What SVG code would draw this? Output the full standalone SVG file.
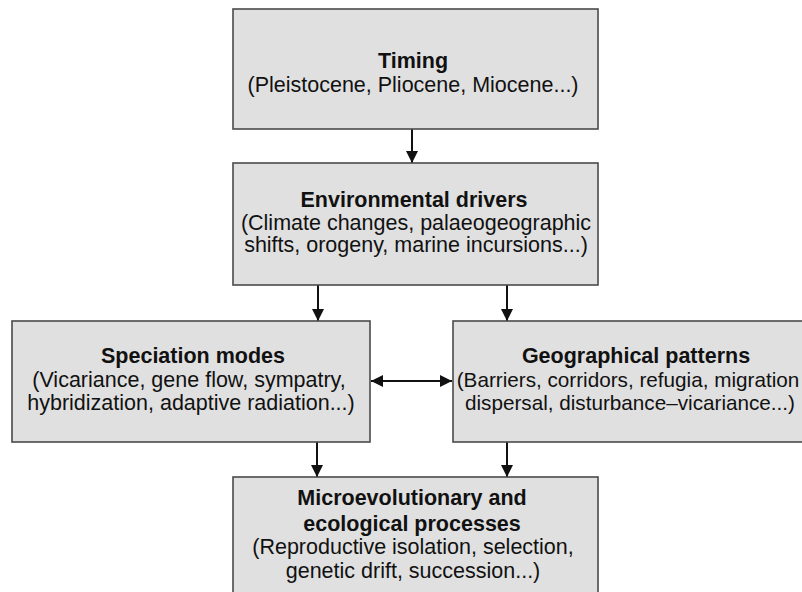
<svg xmlns="http://www.w3.org/2000/svg" width="802" height="592" viewBox="0 0 802 592">
<style>
.box{fill:#e0e0e0;stroke:#4a4a4a;stroke-width:1.6}
text{font-family:"Liberation Sans",Arial,sans-serif;font-size:21.5px;fill:#111;text-anchor:middle}
.b{font-weight:bold}
.s{font-size:20.7px}
.c{stroke:#111;stroke-width:2;fill:none}
</style>
<defs>
<marker id="ah" viewBox="0 0 10 10" refX="10" refY="5" markerWidth="12" markerHeight="12" orient="auto-start-reverse" markerUnits="userSpaceOnUse">
<path d="M0,0 L10,5 L0,10 z" fill="#111"/>
</marker>
</defs>
<rect width="802" height="592" fill="#fff"/>
<g id="connectors">
<line class="c" x1="412" y1="129" x2="412" y2="163" marker-end="url(#ah)"/>
<line class="c" x1="318" y1="285" x2="318" y2="321" marker-end="url(#ah)"/>
<line class="c" x1="507" y1="285" x2="507" y2="321" marker-end="url(#ah)"/>
<line class="c" x1="371" y1="381" x2="452" y2="381" marker-start="url(#ah)" marker-end="url(#ah)"/>
<line class="c" x1="317" y1="442" x2="317" y2="477" marker-end="url(#ah)"/>
<line class="c" x1="507" y1="442" x2="507" y2="477" marker-end="url(#ah)"/>
</g>
<g id="timing">
<rect class="box" x="233" y="9" width="365" height="120"/>
<text class="b" x="413" y="68">Timing</text>
<text x="413" y="92">(Pleistocene, Pliocene, Miocene...)</text>
</g>
<g id="env">
<rect class="box" x="233" y="163" width="365" height="122"/>
<text class="b" x="414" y="207">Environmental drivers</text>
<text x="416" y="230">(Climate changes, palaeogeographic</text>
<text x="416" y="252">shifts, orogeny, marine incursions...)</text>
</g>
<g id="speciation">
<rect class="box" x="12" y="321" width="358" height="121"/>
<text class="b" x="193" y="363">Speciation modes</text>
<text x="189" y="387">(Vicariance, gene flow, sympatry,</text>
<text x="191" y="410">hybridization, adaptive radiation...)</text>
</g>
<g id="geo">
<rect class="box" x="453" y="321" width="360" height="121"/>
<text class="b" x="636" y="363">Geographical patterns</text>
<text class="s" x="628" y="387">(Barriers, corridors, refugia, migration</text>
<text class="s" x="630" y="410">dispersal, disturbance–vicariance...)</text>
</g>
<g id="micro">
<rect class="box" x="233" y="477" width="365" height="130"/>
<text class="b" x="412" y="505">Microevolutionary and</text>
<text class="b" x="412" y="531">ecological processes</text>
<text x="413" y="554">(Reproductive isolation, selection,</text>
<text x="413" y="578">genetic drift, succession...)</text>
</g>
</svg>
